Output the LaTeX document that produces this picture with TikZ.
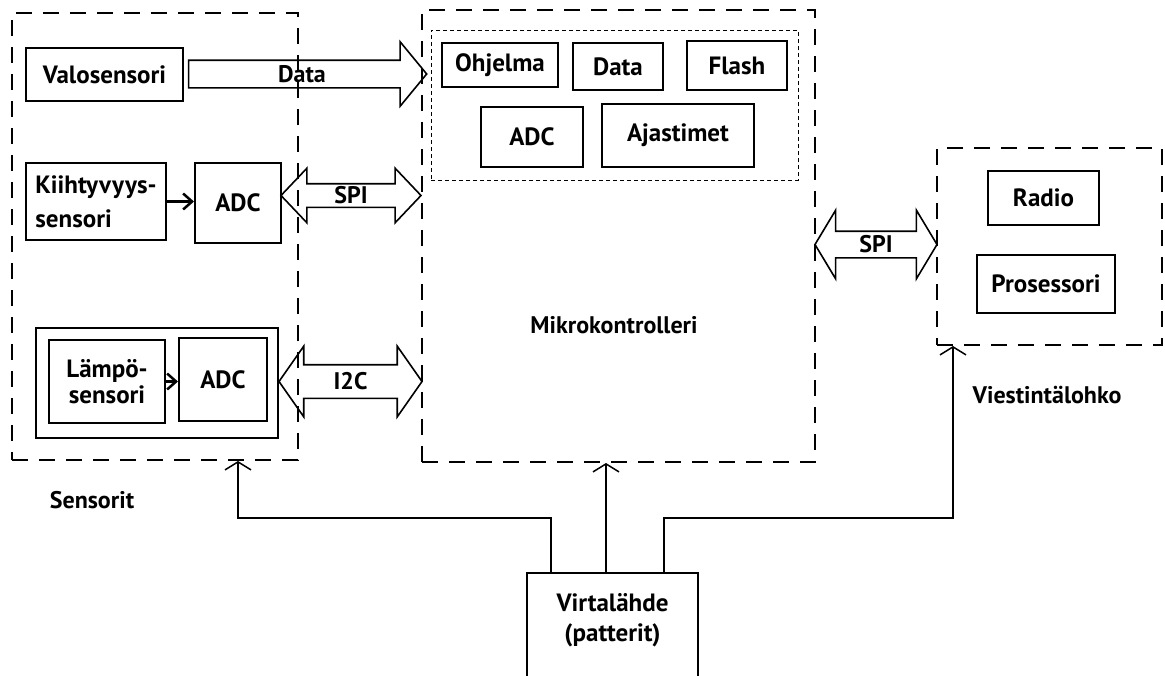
\documentclass[tikz,border=0pt]{standalone}
\usepackage{fontspec}
\setmainfont{PT Sans}
\usetikzlibrary{shapes.arrows,arrows.meta}
\tikzset{
	box/.style = {draw, line width=2pt, inner sep=0pt, align=center, font=\bfseries\fontsize{25}{30}\selectfont},
	grp/.style = {draw, line width=2pt, dash pattern=on 16pt off 11pt, inner sep=0pt},
	memgrp/.style = {draw, line width=1pt, dash pattern=on 4pt off 3pt, inner sep=0pt},
	bus/.style = {draw, line width=1.6pt, inner xsep=0pt, minimum width=0pt},
	lbl/.style = {font=\bfseries\fontsize{24}{28}\selectfont},
	power/.style = {line width=1.5pt, -{Straight Barb[length=8pt,width=26pt]}},
	sig/.style = {line width=2.5pt, -{Straight Barb[length=9pt,width=16pt]}}
}
\begin{document}
\begin{tikzpicture}[x=1pt, y=-1pt]
	\useasboundingbox (0,0) rectangle (1165,675);
	% sensorit
	\node[grp, minimum width=286, minimum height=447] (sensorit) at (155,236.5) {};
	\node[box, minimum width=157, minimum height=53] (valo) at (104.5,74.5) {Valosensori};
	\node[box, minimum width=140, minimum height=77, align=left, font=\bfseries\fontsize{25}{34}\selectfont] (kiiht) at (96,201.5) {Kiihtyvyys-\\sensori};
	\node[box, minimum width=86, minimum height=80] (adcA) at (238,203) {ADC};
	\node[box, minimum width=242, minimum height=110] (lampobox) at (157,383) {};
	\node[box, minimum width=116, minimum height=83, font=\bfseries\fontsize{25}{26}\selectfont] (lampo) at (107,381.5) {Lämpö-\\sensori};
	\node[box, minimum width=88, minimum height=83] (adcB) at (223,379.5) {ADC};
	\draw[sig] (kiiht.east) -- (kiiht.east -| adcA.west);
	\draw[sig] (lampo.east) -- (lampo.east -| adcB.west);
	\node[lbl] (sensoritlbl) at (92,500) {Sensorit};
	% mikrokontrolleri
	\node[grp, minimum width=393, minimum height=452] (mcu) at (618.5,236) {};
	\node[memgrp, minimum width=367, minimum height=150] (mem) at (614.5,105) {};
	\node[box, minimum width=116, minimum height=44] (ohjelma) at (500,65) {Ohjelma};
	\node[box, minimum width=90, minimum height=47] (data) at (618,66.5) {Data};
	\node[box, minimum width=100, minimum height=49] (flash) at (737,65.5) {Flash};
	\node[box, minimum width=102, minimum height=60] (adcC) at (532,137) {ADC};
	\node[box, minimum width=152, minimum height=63] (ajast) at (678,135.5) {Ajastimet};
	\node[lbl] (mculbl) at (614,325) {Mikrokontrolleri};
	% viestintalohko
	\node[grp, minimum width=225, minimum height=197] (viesti) at (1049.5,246.5) {};
	\node[box, minimum width=111, minimum height=54] (radio) at (1043.5,198) {Radio};
	\node[box, minimum width=138, minimum height=58] (proses) at (1046,284) {Prosessori};
	\node[lbl] (viestilbl) at (1047,395) {Viestintälohko};
	% vaylat
	\node[bus, single arrow, single arrow head extend=18.5pt, single arrow tip angle=101, inner ysep=13pt, minimum height=238, label={[lbl]center:Data}] (databus) at (302,74) {};
	\node[bus, double arrow, double arrow head extend=15.5pt, double arrow tip angle=93, inner ysep=11pt, minimum height=140, label={[lbl]center:SPI}] (spiA) at (351,195.5) {};
	\node[bus, double arrow, double arrow head extend=18.5pt, double arrow tip angle=110, inner ysep=16pt, minimum height=143, label={[lbl]center:I2C}] (i2c) at (350.5,381.5) {};
	\node[bus, double arrow, double arrow head extend=21pt, double arrow tip angle=118, inner ysep=12.5pt, minimum height=122, label={[lbl]center:SPI}] (spiB) at (876,244.5) {};
	% virtalahde
	\node[box, draw=none, minimum width=169, minimum height=92, font=\bfseries\fontsize{25}{30}\selectfont] (virta) at (612.5,620) {Virtalähde\\(patterit)};
	\draw[line width=2pt] ([yshift=-20pt]virta.south west) |- (virta.north) -| ([yshift=-20pt]virta.south east);
	\coordinate (pwrL) at (238,518);
	\coordinate (pwrR) at (953,518);
	\draw[power] ([xshift=-61.5pt]virta.north) |- (pwrL) -- (pwrL |- sensorit.south);
	\draw[power] ([xshift=-6.5pt]virta.north) -- ([xshift=-6.5pt]virta.north |- mcu.south);
	\draw[power] ([xshift=51.5pt]virta.north) |- (pwrR) -- (pwrR |- viesti.south);
\end{tikzpicture}
\end{document}
